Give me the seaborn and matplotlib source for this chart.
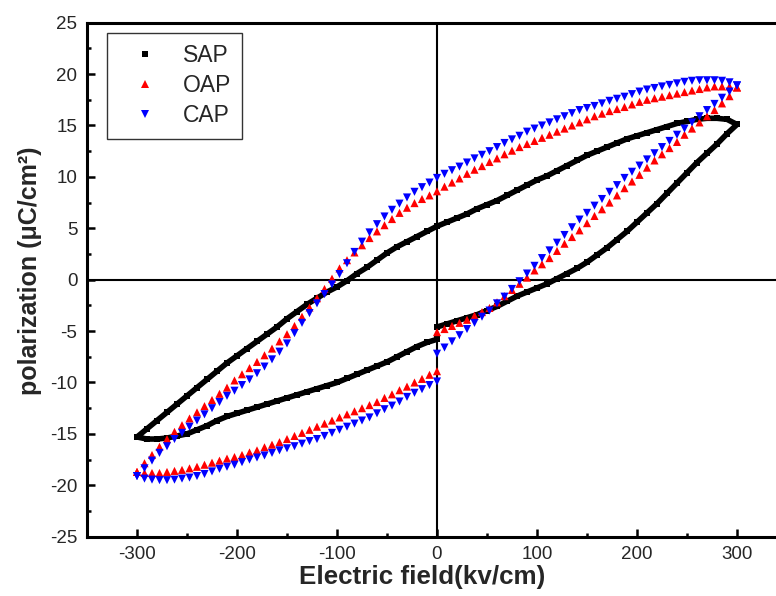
import matplotlib
matplotlib.use("Agg")
import matplotlib.pyplot as plt
import pandas as pd
import seaborn as sns
from matplotlib.lines import Line2D
from matplotlib.ticker import MultipleLocator

# field sweep of the measured loops (kV/cm): 0 -> +300, +300 -> -300, -300 -> 0
E_RISE = [0, 7.5, 15, 22.5, 30, 37.5, 45, 52.5, 60, 67.5, 75, 82.5, 90, 97.5, 105, 112.5,
          120, 127.5, 135, 142.5, 150, 157.5, 165, 172.5, 180, 187.5, 195, 202.5, 210,
          217.5, 225, 232.5, 240, 247.5, 255, 262.5, 270, 277.5, 285, 292.5, 300]
E_FALL = [300, 292.5, 285, 277.5, 270, 262.5, 255, 247.5, 240, 232.5,
          225, 217.5, 210, 202.5, 195, 187.5, 180, 172.5, 165, 157.5,
          150, 142.5, 135, 127.5, 120, 112.5, 105, 97.5, 90, 82.5,
          75, 67.5, 60, 52.5, 45, 37.5, 30, 22.5, 15, 7.5,
          0,
          -7.5, -15, -22.5, -30, -37.5, -45, -52.5, -60, -67.5, -75,
          -82.5, -90, -97.5, -105, -112.5, -120, -127.5, -135, -142.5, -150,
          -157.5, -165, -172.5, -180, -187.5, -195, -202.5, -210, -217.5, -225,
          -232.5, -240, -247.5, -255, -262.5, -270, -277.5, -285, -292.5, -300]
E_RETURN = [-300, -292.5, -285, -277.5, -270, -262.5, -255, -247.5, -240, -232.5, -225,
            -217.5, -210, -202.5, -195, -187.5, -180, -172.5, -165, -157.5, -150, -142.5,
            -135, -127.5, -120, -112.5, -105, -97.5, -90, -82.5, -75, -67.5, -60, -52.5,
            -45, -37.5, -30, -22.5, -15, -7.5, 0]

# SAP trace is drawn as a heavy line, read at 10 kV/cm
E_RISE_SAP = [0, 10, 20, 30, 40, 50, 60, 70, 80, 90, 100, 110, 120, 130, 140, 150,
              160, 170, 180, 190, 200, 210, 220, 230, 240, 250, 260, 270, 280, 290, 300]
E_FALL_SAP = [300, 290, 280, 270, 260, 250, 240, 230, 220, 210, 200, 190, 180, 170, 160,
              150, 140, 130, 120, 110, 100, 90, 80, 70, 60, 50, 40, 30, 20, 10, 0,
              -10, -20, -30, -40, -50, -60, -70, -80, -90, -100, -110, -120, -130, -140,
              -150, -160, -170, -180, -190, -200, -210, -220, -230, -240, -250, -260,
              -270, -280, -290, -300]
E_RETURN_SAP = [-300, -290, -280, -270, -260, -250, -240, -230, -220, -210, -200, -190,
                -180, -170, -160, -150, -140, -130, -120, -110, -100, -90, -80, -70, -60,
                -50, -40, -30, -20, -10, 0]

# polarization (uC/cm2)
SAP_RISE = [-4.6, -4.3, -4.0, -3.7, -3.4, -3.0, -2.6, -2.1, -1.6, -1.2, -0.8, -0.4, 0.1,
            0.6, 1.1, 1.7, 2.4, 3.1, 3.9, 4.7, 5.6, 6.5, 7.4, 8.4, 9.4, 10.4, 11.4, 12.3,
            13.2, 14.2, 15.1]
SAP_FALL = [15.1, 15.6, 15.7, 15.7, 15.6, 15.4, 15.2, 14.9, 14.6, 14.3,
            14.0, 13.7, 13.3, 12.9, 12.5, 12.1, 11.6, 11.1, 10.6, 10.1,
            9.7, 9.2, 8.7, 8.2, 7.7, 7.3, 6.9, 6.4, 6.0, 5.6,
            5.2,
            4.7, 4.2, 3.7, 3.2, 2.6, 1.9, 1.2, 0.6, -0.1, -0.7,
            -1.2, -1.8, -2.4, -3.1, -3.8, -4.6, -5.3, -6.0, -6.7, -7.4,
            -8.1, -8.9, -9.7, -10.5, -11.3, -12.1, -12.9, -13.7, -14.5, -15.3]
SAP_RETURN = [-15.3, -15.5, -15.5, -15.4, -15.2, -15.0, -14.6, -14.2, -13.7, -13.3, -13.0,
              -12.7, -12.4, -12.1, -11.8, -11.5, -11.2, -10.9, -10.6, -10.3, -10.0, -9.6,
              -9.2, -8.8, -8.4, -8.0, -7.5, -7.0, -6.5, -6.1, -5.8]

OAP_RISE = [-5.1, -4.8, -4.5, -4.2, -3.9, -3.5, -3.15, -2.75, -2.2, -1.6, -1.0, -0.4, 0.2,
            0.9, 1.5, 2.1, 2.8, 3.5, 4.15, 4.8, 5.5, 6.2, 6.85, 7.5, 8.2, 8.9, 9.55, 10.2,
            10.9, 11.6, 12.2, 12.8, 13.4, 14.1, 14.7, 15.3, 15.9, 16.5, 17.15, 17.85, 18.7]
OAP_FALL = [18.7, 18.8, 18.8, 18.8, 18.7, 18.55, 18.4, 18.25, 18.1, 17.95,
            17.8, 17.65, 17.5, 17.3, 17.05, 16.8, 16.6, 16.4, 16.15, 15.9,
            15.6, 15.3, 15.0, 14.7, 14.4, 14.1, 13.8, 13.5, 13.2, 12.9,
            12.55, 12.2, 11.8, 11.45, 11.05, 10.7, 10.3, 9.85, 9.45, 9.05,
            8.6,
            8.2, 7.85, 7.45, 7.0, 6.5, 5.9, 5.3, 4.7, 4.05, 3.35,
            2.65, 1.9, 1.1, 0.1, -0.9, -1.8, -2.7, -3.6, -4.5, -5.3,
            -6.0, -6.7, -7.35, -8.0, -8.6, -9.2, -9.8, -10.5, -11.1, -11.7,
            -12.3, -12.9, -13.5, -14.15, -14.8, -15.5, -16.25, -17.05, -17.85, -18.7]
OAP_RETURN = [-18.7, -18.8, -18.8, -18.8, -18.7, -18.6, -18.5, -18.35, -18.2, -18.0, -17.8,
              -17.6, -17.4, -17.25, -17.05, -16.8, -16.6, -16.3, -16.05, -15.8, -15.5,
              -15.2, -14.9, -14.6, -14.3, -14.0, -13.7, -13.4, -13.1, -12.8, -12.5, -12.2,
              -11.9, -11.5, -11.15, -10.75, -10.4, -10.0, -9.65, -9.25, -8.9]

CAP_RISE = [-7.2, -6.6, -6.0, -5.4, -4.8, -4.2, -3.6, -3.0, -2.3, -1.65, -0.9, -0.15, 0.6,
            1.35, 2.1, 2.85, 3.6, 4.35, 5.1, 5.85, 6.5, 7.2, 7.85, 8.55, 9.2, 9.9, 10.5,
            11.1, 11.7, 12.3, 12.9, 13.5, 14.1, 14.7, 15.3, 15.9, 16.5, 17.1, 17.7, 18.3,
            18.9]
CAP_FALL = [18.9, 19.2, 19.35, 19.4, 19.4, 19.4, 19.35, 19.25, 19.1, 18.95,
            18.8, 18.65, 18.5, 18.3, 18.05, 17.8, 17.6, 17.4, 17.15, 16.9,
            16.7, 16.5, 16.2, 15.9, 15.6, 15.3, 15.0, 14.7, 14.4, 14.0,
            13.65, 13.3, 12.9, 12.5, 12.15, 11.8, 11.4, 11.0, 10.65, 10.3,
            9.9,
            9.45, 9.0, 8.55, 8.0, 7.4, 6.8, 6.15, 5.4, 4.6, 3.7,
            2.7, 1.6, 0.55, -0.45, -1.4, -2.3, -3.25, -4.2, -5.2, -6.2,
            -7.0, -7.75, -8.45, -9.1, -9.7, -10.25, -10.8, -11.3, -11.9, -12.5,
            -13.1, -13.7, -14.3, -14.9, -15.5, -16.2, -16.85, -17.6, -18.35, -19.1]
CAP_RETURN = [-19.1, -19.35, -19.45, -19.5, -19.5, -19.45, -19.35, -19.25, -19.1, -18.9,
              -18.65, -18.4, -18.2, -18.0, -17.75, -17.5, -17.3, -17.1, -16.85, -16.6,
              -16.4, -16.2, -15.95, -15.7, -15.5, -15.2, -14.9, -14.6, -14.3, -14.0, -13.7,
              -13.4, -13.0, -12.6, -12.25, -11.85, -11.4, -11.0, -10.65, -10.25, -9.9]

SAMPLES = ["SAP", "OAP", "CAP"]
COLORS = {"SAP": "#000000", "OAP": "#ff0000", "CAP": "#0000ff"}
MARKERS = {"SAP": "s", "OAP": "^", "CAP": "v"}


def build_frame():
    """Long-form table, one row per measured point, kept in sweep order."""
    sweeps = {
        "SAP": (E_RISE_SAP + E_FALL_SAP + E_RETURN_SAP, SAP_RISE + SAP_FALL + SAP_RETURN),
        "OAP": (E_RISE + E_FALL + E_RETURN, OAP_RISE + OAP_FALL + OAP_RETURN),
        "CAP": (E_RISE + E_FALL + E_RETURN, CAP_RISE + CAP_FALL + CAP_RETURN),
    }
    frames = []
    for name in SAMPLES:
        field, pol = sweeps[name]
        frames.append(pd.DataFrame({"field": field, "polarization": pol, "sample": name}))
    return pd.concat(frames, ignore_index=True)


df = build_frame()

sns.set_style("white")
plt.rcParams["font.family"] = ["Liberation Sans", "DejaVu Sans"]
plt.rcParams["axes.unicode_minus"] = False

W, H = 776, 596
fig = plt.figure(figsize=(W / 100, H / 100), dpi=100)
ax = fig.add_axes([87 / W, 59.3 / H, 700 / W, 514 / H])

ax.axhline(0, color="black", lw=1.5, zorder=1)
ax.axvline(0, color="black", lw=1.5, zorder=1)

sns.lineplot(
    data=df[df["sample"] == "SAP"], x="field", y="polarization",
    sort=False, estimator=None, color="black", lw=4,
    marker="s", markersize=4, markeredgewidth=0, legend=False, ax=ax, zorder=2,
)
sns.scatterplot(
    data=df[df["sample"] != "SAP"], x="field", y="polarization",
    hue="sample", style="sample", palette=COLORS, markers=MARKERS,
    s=34, linewidth=0, legend=False, ax=ax, zorder=3,
)

ax.set_xlim(-350, 350)
ax.set_ylim(-25, 25)
ax.xaxis.set_major_locator(MultipleLocator(100))
ax.xaxis.set_minor_locator(MultipleLocator(50))
ax.yaxis.set_major_locator(MultipleLocator(5))
ax.yaxis.set_minor_locator(MultipleLocator(2.5))
ax.tick_params(which="both", direction="in", width=1.8, color="black",
               bottom=True, left=True, top=False, right=False)
ax.tick_params(which="major", length=6, labelsize=13.5, pad=7)
ax.tick_params(which="minor", length=3)
for spine in ax.spines.values():
    spine.set_linewidth(2.2)
    spine.set_color("black")

ax.set_xlabel("Electric field(kv/cm)", fontsize=18.7, fontweight="bold")
ax.set_ylabel("polarization (\u03bcC/cm\u00b2)", fontsize=18, fontweight="bold")
ax.xaxis.set_label_coords(0.479, -0.055)
ax.yaxis.set_label_coords(-0.064, 0.517)

handles = [
    Line2D([], [], color=COLORS[n], marker=MARKERS[n], linestyle="none",
           markersize=4 if n == "SAP" else 6, markeredgewidth=0)
    for n in SAMPLES
]
leg = ax.legend(handles, SAMPLES, loc="upper left", bbox_to_anchor=(0.0286, 0.98),
                borderaxespad=0, fontsize=16.5, frameon=True, fancybox=False,
                handlelength=2.3, handletextpad=0.5, labelspacing=0.3, borderpad=0.5)
leg.get_frame().set_edgecolor("#333333")
leg.get_frame().set_linewidth(1.0)
leg.get_frame().set_alpha(1)

fig.savefig("out.png", dpi=100)
plt.close(fig)
